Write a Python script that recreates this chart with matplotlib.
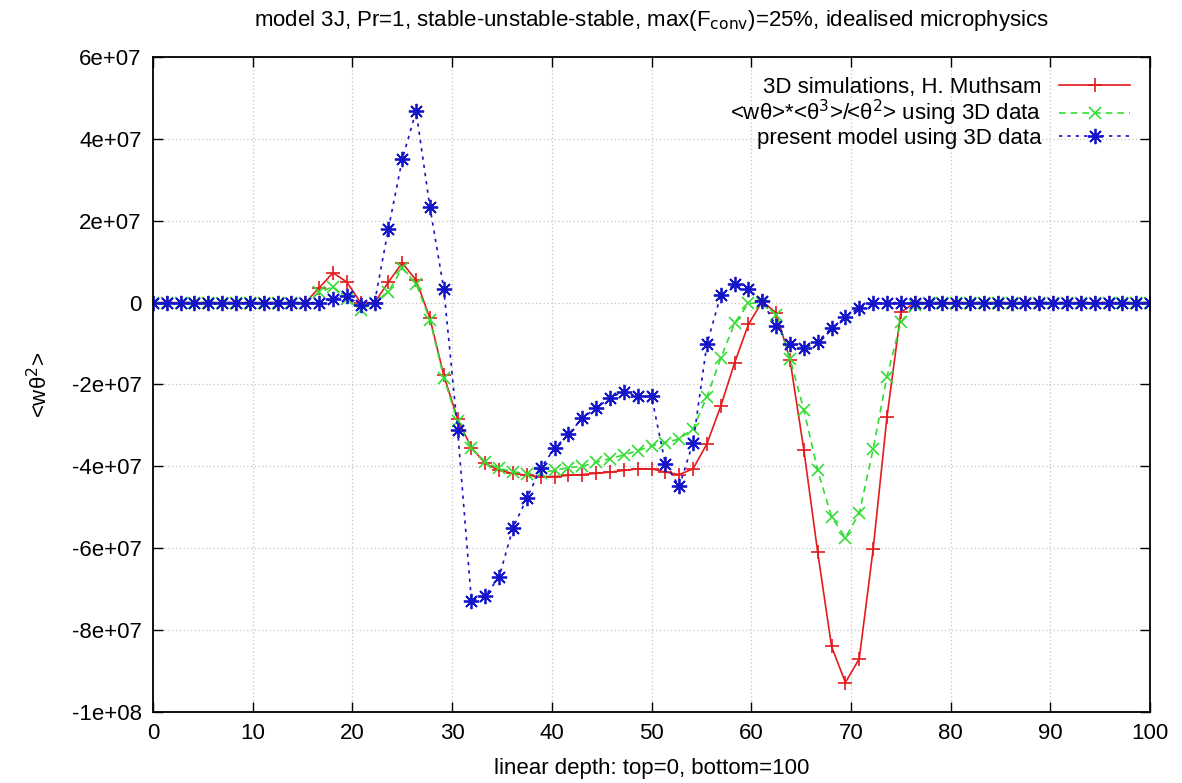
import matplotlib
matplotlib.use("Agg")
import matplotlib.pyplot as plt
import numpy as np

plt.rcParams['font.family'] = ['Liberation Sans', 'DejaVu Sans']

# depth grid: 73 levels from top (0) to bottom (100)
depth = np.linspace(0, 100, 73)

# values in units of 1e7
sim_3d = [0, 0, 0, 0, 0, 0, 0, 0, 0, 0,
          0, 0, 0.36, 0.73, 0.5, 0, 0, 0.5, 0.97, 0.55,
          -0.38, -1.78, -2.84, -3.55, -3.93, -4.1, -4.17, -4.22, -4.25, -4.25,
          -4.22, -4.2, -4.17, -4.14, -4.1, -4.06, -4.06, -4.14, -4.2, -4.06,
          -3.45, -2.53, -1.47, -0.53, 0.03, -0.25, -1.4, -3.6, -6.1, -8.4,
          -9.28, -8.7, -6.03, -2.8, -0.24, 0, 0, 0, 0, 0,
          0, 0, 0, 0, 0, 0, 0, 0, 0, 0,
          0, 0, 0]

closure_3d = [0, 0, 0, 0, 0, 0, 0, 0, 0, 0,
              0, 0, 0.25, 0.39, 0.1, -0.17, 0, 0.27, 0.84, 0.46,
              -0.42, -1.83, -2.9, -3.55, -3.9, -4.05, -4.13, -4.18, -4.15, -4.1,
              -4.03, -4.0, -3.9, -3.81, -3.72, -3.62, -3.5, -3.42, -3.33, -3.08,
              -2.3, -1.36, -0.5, -0.02, 0, -0.3, -1.37, -2.62, -4.1, -5.23,
              -5.74, -5.15, -3.58, -1.81, -0.48, -0.07, 0, 0, 0, 0,
              0, 0, 0, 0, 0, 0, 0, 0, 0, 0,
              0, 0, 0]

model_3d = [0, 0, 0, 0, 0, 0, 0, 0, 0, 0,
            0, 0, 0, 0.08, 0.15, -0.05, 0, 1.8, 3.5, 4.68,
            2.33, 0.34, -3.12, -7.3, -7.16, -6.7, -5.5, -4.78, -4.05, -3.55,
            -3.22, -2.82, -2.58, -2.32, -2.18, -2.29, -2.29, -3.94, -4.49, -3.42,
            -1.01, 0.18, 0.45, 0.33, 0.03, -0.58, -1.02, -1.12, -0.95, -0.62,
            -0.36, -0.12, -0.02, 0, 0, 0, 0, 0, 0, 0,
            0, 0, 0, 0, 0, 0, 0, 0, 0, 0,
            0, 0, 0]

labels = ['3D simulations, H. Muthsam',
          '<wθ>*<θ$^3$>/<θ$^2$> using 3D data',
          'present model using 3D data']

scale = 1e7
fs = 16

fig = plt.figure(figsize=(11.82, 7.83), dpi=100)
ax = fig.add_axes([0.1294, 0.0907, 0.8436, 0.8365])

ax.plot(depth, np.array(sim_3d) * scale, color='#e41a1c', ls='-', lw=1.2,
        marker='+', ms=10, mew=1.2, label=labels[0])
ax.plot(depth, np.array(closure_3d) * scale, color='#33dd33', ls=(0, (4, 3)), lw=1.2,
        marker='x', ms=8, mew=1.2, label=labels[1])
ax.plot(depth, np.array(model_3d) * scale, color='#1414c8', ls=(0, (2, 3)), lw=1.2,
        marker=(8, 2, 0), ms=11, mew=1.3, label=labels[2])

ax.set_xlim(0, 100)
ax.set_ylim(-1e8, 6e7)
ax.set_xticks(np.arange(0, 101, 10))
ax.set_yticks(np.arange(-1e8, 6.1e7, 2e7))
ax.set_yticklabels(['-1e+08', '-8e+07', '-6e+07', '-4e+07', '-2e+07', '0',
                    '2e+07', '4e+07', '6e+07'])
ax.tick_params(direction='in', top=True, right=True, length=7, width=1,
               labelsize=fs, pad=8)
ax.grid(True, color='#c4c4c4', ls=(0, (1, 2)), lw=0.9)
for s in ax.spines.values():
    s.set_linewidth(1.3)

ax.set_title('model 3J, Pr=1, stable-unstable-stable, max(F$_{\\rm conv}$)=25%, idealised microphysics',
             fontsize=fs, pad=22)
ax.set_xlabel('linear depth: top=0, bottom=100', fontsize=fs, labelpad=10)
ax.set_ylabel('<wθ$^2$>', fontsize=fs, labelpad=14)

ax.legend(loc='upper right', frameon=False, markerfirst=False, fontsize=fs,
          handlelength=3.2, labelspacing=0.0, borderaxespad=0.5)

fig.savefig('out.png', dpi=100)
